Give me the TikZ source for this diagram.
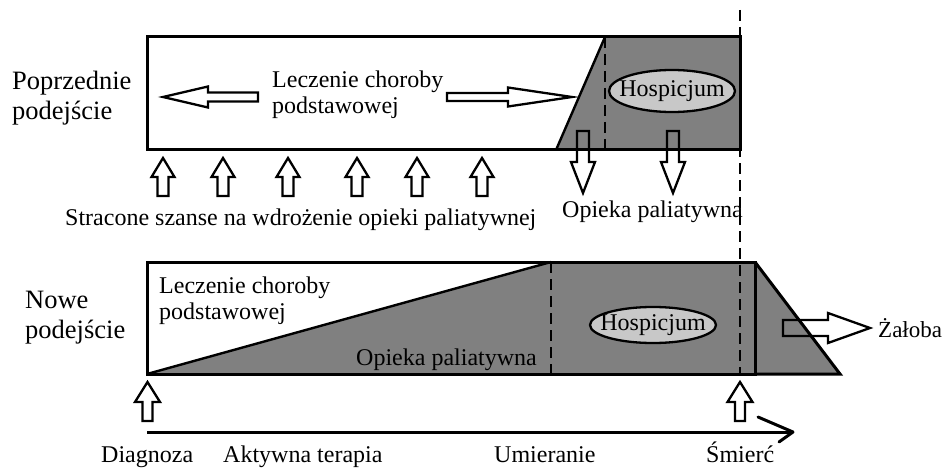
\documentclass[tikz,border=0pt]{standalone}
\usepackage{fontspec}
\setmainfont{Liberation Serif}
\usepackage{tikz}
\usetikzlibrary{arrows.meta, calc}
\definecolor{pasek}{RGB}{128,128,128}
\definecolor{hospis}{RGB}{200,200,200}
\tikzset{
  % Ramki i linie
  ramka/.style      = {line width=3pt, draw=black},
  linia/.style      = {line width=2.4pt, draw=black},
  przerywana/.style = {line width=2.8pt, dash pattern=on 11pt off 6pt},
  % Puste strzalki blokowe
  blokstrz/.style   = {line width=2.3pt, draw=black, line join=miter},
  elipsa/.style     = {line width=2.3pt, draw=black, fill=hospis},
  % Etykiety
  lab/.style        = {font=\fontsize{24}{26}\selectfont, inner sep=0pt, align=left},
  labduzy/.style    = {font=\fontsize{26.5}{30}\selectfont, inner sep=0pt, align=left},
}
\begin{document}
\begin{tikzpicture}[x=1pt, y=-1pt]
  \useasboundingbox (0,0) rectangle (945,468);
  % Poprzednie podejscie
  \fill[pasek] (556,150) -- (605,37) -- (740,37) -- (740,150) -- cycle;
  \draw[linia] (556,150) -- (605,37);
  \draw[przerywana] (605,37) -- (605,150);
  \draw[ramka] (147,37) rectangle (740,150);
  \draw[elipsa] (672,91) ellipse [x radius=63pt, y radius=21pt];
  \node[lab] (hospG) at (672,91) {Hospicjum};
  % Strzalki leczenia
  \draw[blokstrz, shift={(163,97)}] (0,0) -- (45,-10.5) -- (45,-4.5) -- (95,-4.5)
    -- (95,4.5) -- (45,4.5) -- (45,10.5) -- cycle;
  \draw[blokstrz, shift={(572,97)}] (0,0) -- (-64,-9.5) -- (-64,-4) -- (-125,-4)
    -- (-125,4) -- (-64,4) -- (-64,9.5) -- cycle;
  % Stracone szanse
  \foreach \x in {163,223,288,357,417,482}
    \draw[blokstrz, shift={(\x,158)}] (0,0) -- (11.5,19) -- (5.5,19) -- (5.5,38)
      -- (-5.5,38) -- (-5.5,19) -- (-11.5,19) -- cycle;
  % Opieka paliatywna w dol
  \foreach \x in {583,673}
    \draw[blokstrz, shift={(\x,193)}] (0,0) -- (12,-31) -- (6,-31) -- (6,-62)
      -- (-6,-62) -- (-6,-31) -- (-12,-31) -- cycle;
  \node[labduzy, anchor=base west] (poprz) at (12,120) {Poprzednie\\podejście};
  \node[lab, anchor=base west] (leczG) at (272,114) {Leczenie choroby\\podstawowej};
  \node[lab, anchor=base west] (stracone) at (65,225)
    {Stracone szanse na wdrożenie opieki paliatywnej};
  \node[lab, anchor=base west] (opiekaG) at (562,217) {Opieka paliatywna};

  % Nowe podejscie
  \fill[pasek] (147,374) -- (551,262) -- (755,262) -- (840,374) -- cycle;
  \draw[linia] (147,374) -- (551,262);
  \draw[przerywana] (551,262) -- (551,374);
  \draw[ramka] (147,262) rectangle (755,374);
  \draw[ramka] (755,262) -- (840,374) -- (755,374);
  \draw[elipsa] (653,325) ellipse [x radius=63pt, y radius=18pt];
  \node[lab] (hospD) at (653,325) {Hospicjum};
  \draw[blokstrz, shift={(870,328)}] (0,0) -- (-42,-15) -- (-42,-8) -- (-87,-8)
    -- (-87,8) -- (-42,8) -- (-42,15) -- cycle;
  \node[labduzy, anchor=base west] (nowe) at (25,338) {Nowe\\podejście};
  \node[lab, anchor=base west] (leczD) at (159,319) {Leczenie choroby\\podstawowej};
  \node[lab, anchor=base east] (opiekaD) at (537,365) {Opieka paliatywna};
  \node[lab, font=\fontsize{23}{25}\selectfont, anchor=base west] (zaloba) at (878,337) {Żałoba};

  % Smierc - linia przerywana
  \draw[przerywana] (740,10) -- (740,374);

  % Os czasu
  \coordinate (osStart) at (147,432);
  \coordinate (osKoniec) at (793,432);
  \draw[ramka] (osStart) -- (osKoniec);
  \draw[ramka, line cap=round] (osKoniec) -- ++(-35,-15);
  \draw[ramka, line cap=round] (osKoniec) -- ++(-14,10);
  \foreach \x in {147.5,740}
    \draw[blokstrz, shift={(\x,382)}] (0,0) -- (12.5,20) -- (5,20) -- (5,39)
      -- (-5,39) -- (-5,20) -- (-12.5,20) -- cycle;
  \node[lab, anchor=base west] (diagnoza) at (101,462) {Diagnoza};
  \node[lab, anchor=base west] (aktywna) at (223,462) {Aktywna terapia};
  \node[lab, anchor=base west] (umieranie) at (494,462) {Umieranie};
  \node[lab, anchor=base west] (smierc) at (706,462) {Śmierć};
\end{tikzpicture}
\end{document}
